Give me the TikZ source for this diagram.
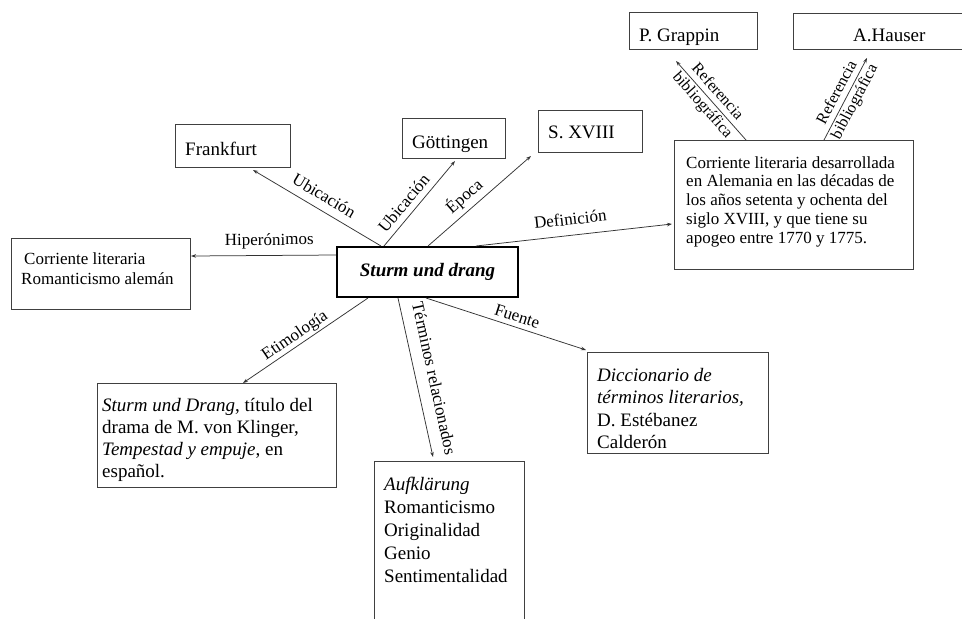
\documentclass[tikz,border=0pt]{standalone}
\usepackage{fontspec}
\setmainfont{Liberation Serif}
\usetikzlibrary{arrows.meta}
\newcommand{\mystrut}{\rule{0pt}{16pt}}
\begin{document}
\begin{tikzpicture}[x=1pt,y=-1pt,
  box/.style={draw=black!75, line width=1pt, rectangle, inner sep=0pt, anchor=north west},
  conn/.style={draw=black!80, line width=0.75pt, -{Stealth[length=5pt,width=3.5pt]}},
  lbl/.style={font=\fontsize{17}{17}\selectfont, inner sep=0pt, sloped, text depth=0pt},
  reflbl/.style={font=\fontsize{16}{20}\selectfont, inner sep=0pt, sloped, align=center},
  txt/.style={inner sep=0pt, anchor=north west, align=left},
  one/.style={inner sep=0pt, anchor=base west, font=\fontsize{19}{22}\selectfont},
]
\useasboundingbox (0,0) rectangle (962,619);
\clip (0,0) rectangle (962,619);
\fill[white] (0,0) rectangle (962,619);

% boxes
\node[box, minimum width=115pt, minimum height=43pt] (fr) at (175,124) {};
\node[box, minimum width=103pt, minimum height=40pt] (go) at (402,118) {};
\node[box, minimum width=104pt, minimum height=42pt] (sx) at (538,110) {};
\node[box, minimum width=239pt, minimum height=129pt] (def) at (674,140) {};
\node[box, minimum width=128pt, minimum height=37pt] (pg) at (629,12) {};
\node[box, minimum width=194pt, minimum height=36pt] (ah) at (793,13) {};
\node[box, minimum width=179pt, minimum height=71pt] (hip) at (11,238) {};
\node[box, minimum width=239pt, minimum height=104pt] (ety) at (97,383) {};
\node[box, minimum width=150pt, minimum height=190pt] (auf) at (374,461) {};
\node[box, minimum width=181pt, minimum height=101pt] (dic) at (587,352) {};
\node[box, draw=black, line width=2pt, minimum width=181pt, minimum height=50pt,
      font=\fontsize{19}{22}\selectfont\bfseries\itshape] (c) at (336,246) {Sturm und drang};

% texts
\node[one] (tfr) at (185,155) {Frankfurt};
\node[one] (tgo) at (412,148) {Göttingen};
\node[one] (tsx) at (548,138) {S. XVIII};
\node[one] (tpg) at (639,41) {P. Grappin};
\node[one] (tah) at (853,41) {A.Hauser};
\node[txt, font=\fontsize{17}{18.75}\selectfont] (tdef) at (686,152)
  {\mystrut Corriente literaria desarrollada\\en Alemania en las décadas de\\los años setenta y ochenta del\\siglo XVIII, y que tiene su\\apogeo entre 1770 y 1775.};
\node[txt, font=\fontsize{17}{20}\selectfont] (thip) at (21,248)
  {\mystrut\hspace{3pt}Corriente literaria\\Romanticismo alemán};
\node[txt, font=\fontsize{19}{22}\selectfont] (tety) at (102,395)
  {\mystrut\textit{Sturm und Drang}, título del\\drama de M. von Klinger,\\\textit{Tempestad y empuje}, en\\español.};
\node[txt, font=\fontsize{19}{23}\selectfont] (tauf) at (384,474)
  {\mystrut\textit{Aufklärung}\\Romanticismo\\Originalidad\\Genio\\Sentimentalidad};
\node[txt, font=\fontsize{19}{22.5}\selectfont] (tdic) at (597,365)
  {\mystrut\textit{Diccionario de}\\\textit{términos literarios,}\\D. Estébanez\\Calderón};

% connectors
\draw[conn] ([yshift=-9pt]c.north west) -- node[lbl, pos=0.46, above=10pt] (lhip) {Hiperónimos} ([yshift=-18pt]hip.north east);
\draw[conn] ([xshift=45pt]c.north west) -- node[lbl, pos=0.5, above=8pt] (lubi1) {Ubicación} ([xshift=78pt,yshift=-2pt]fr.south west);
\draw[conn] ([xshift=48pt]c.north west) -- node[lbl, pos=0.41, above=6pt] (lubi2) {Ubicación} ([xshift=53pt,yshift=-2pt]go.south west);
\draw[conn] ([xshift=92pt]c.north west) -- node[lbl, pos=0.44, above=8pt] (lepo) {Época} ([xshift=-7pt,yshift=-3pt]sx.south west);
\draw[conn] ([xshift=140pt]c.north west) -- node[lbl, pos=0.49, above=10pt] (ldef) {Definición} ([xshift=-2pt,yshift=-84pt]def.north west);
\draw[conn] ([xshift=72pt]def.north west) -- node[reflbl, pos=0.52] (lref1) {Referencia\\bibliográfica} ([xshift=47pt,yshift=-11pt]pg.south west);
\draw[conn] ([xshift=150pt]def.north west) -- node[reflbl, pos=0.52] (lref2) {Referencia\\bibliográfica} ([xshift=74pt,yshift=-8pt]ah.south west);
\draw[conn] ([xshift=32pt]c.south west) -- node[lbl, pos=0.54, above=5pt] (lety) {Etimología} ([xshift=146pt]ety.north west);
\draw[conn] ([xshift=62pt]c.south west) -- node[lbl, pos=0.53, above=12pt] (lterm) {Términos relacionados} ([xshift=59pt,yshift=4pt]auf.north west);
\draw[conn] ([xshift=90pt]c.south west) -- node[lbl, pos=0.55, above=5pt] (lfue) {Fuente} ([xshift=-1pt,yshift=2pt]dic.north west);
\end{tikzpicture}
\end{document}
